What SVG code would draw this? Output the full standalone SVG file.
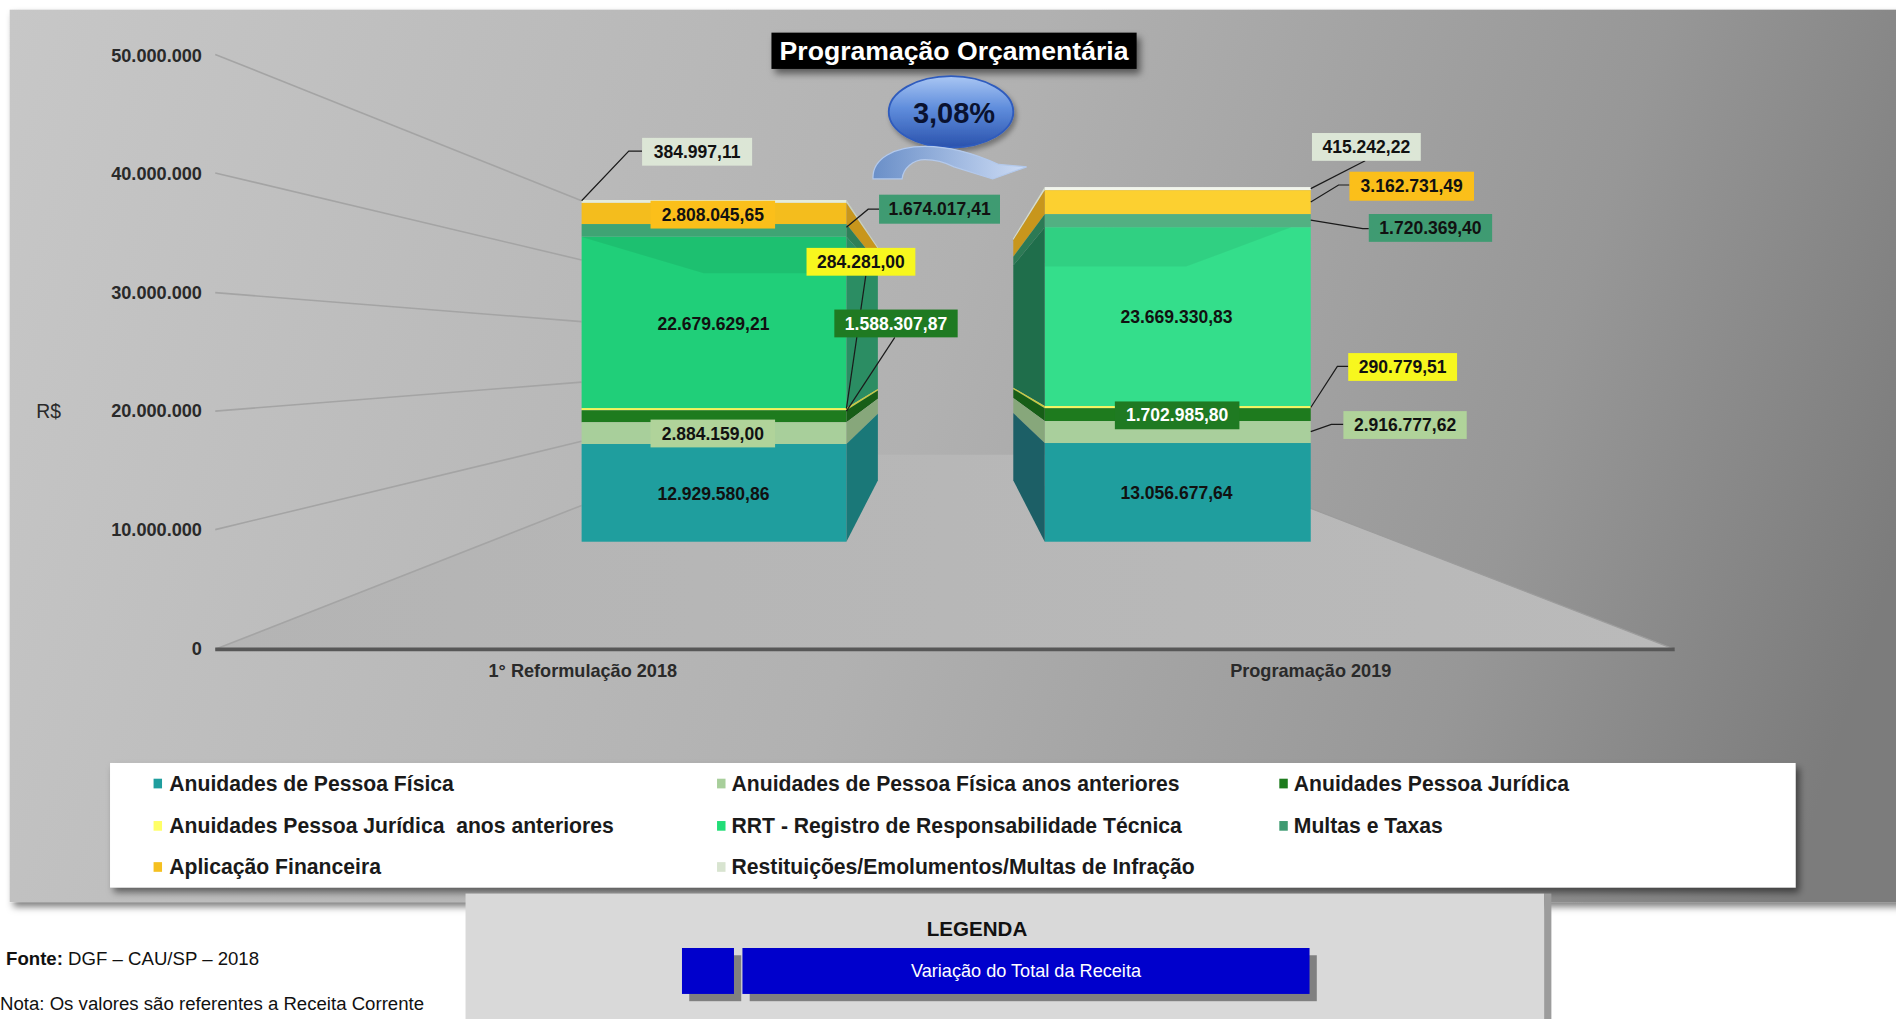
<svg xmlns="http://www.w3.org/2000/svg" width="1896" height="1019" viewBox="0 0 1896 1019">
<defs>
<style>
text{font-family:"Liberation Sans",Arial,sans-serif}
.lbl{font-weight:bold;font-size:14.5px;text-anchor:middle;fill:#111}
.wt{fill:#fff}
.ax{font-weight:bold;font-size:15px;text-anchor:end;fill:#2a2a2a}
.cat{font-weight:bold;font-size:15px;text-anchor:middle;fill:#2a2a2a}
.leg{font-weight:bold;font-size:17.5px;fill:#1a1a1a}
.ld{stroke:#1a1a1a;stroke-width:1;fill:none}
.grid{stroke:#a4a4a4;stroke-width:1.3;fill:none}
.note{font-size:15.4px;fill:#111}
</style>
<linearGradient id="bg" gradientUnits="userSpaceOnUse" x1="8" y1="8" x2="1568" y2="500">
<stop offset="0" stop-color="#c7c7c7"/>
<stop offset="0.5" stop-color="#b1b1b1"/>
<stop offset="0.8" stop-color="#979797"/>
<stop offset="1" stop-color="#7b7b7b"/>
</linearGradient>
<linearGradient id="floor" x1="0" y1="0" x2="1" y2="0">
<stop offset="0" stop-color="#b4b4b4"/>
<stop offset="1" stop-color="#bababa"/>
</linearGradient>
<linearGradient id="ell" x1="0" y1="0" x2="0" y2="1">
<stop offset="0" stop-color="#a9c6f3"/>
<stop offset="0.45" stop-color="#5f8ddc"/>
<stop offset="1" stop-color="#2a52ad"/>
</linearGradient>
<linearGradient id="arr" x1="0" y1="0" x2="1" y2="0">
<stop offset="0" stop-color="#6a8fc8"/>
<stop offset="1" stop-color="#cddcf5"/>
</linearGradient>
<filter id="sh" x="-5%" y="-20%" width="115%" height="160%">
<feDropShadow dx="3" dy="4" stdDeviation="3" flood-color="#000" flood-opacity="0.5"/>
</filter>
<filter id="sh2" x="-20%" y="-20%" width="140%" height="150%">
<feDropShadow dx="2" dy="3" stdDeviation="2" flood-color="#000" flood-opacity="0.35"/>
</filter>
</defs>
<rect width="1896" height="1019" fill="#fff"/>
<g transform="scale(1.20918)">
<g id="panel">
<rect x="8" y="8" width="1565" height="738" fill="url(#bg)" filter="url(#sh)"/>
<polygon points="178,537 588,376 969,376 1385,537" fill="url(#floor)"/>
<line class="grid" x1="178" y1="45" x2="481" y2="166"/>
<line class="grid" x1="178" y1="143" x2="481" y2="215"/>
<line class="grid" x1="178" y1="242" x2="481" y2="266"/>
<line class="grid" x1="178" y1="340" x2="481" y2="316"/>
<line class="grid" x1="178" y1="438" x2="481" y2="365"/>
<line class="grid" x1="178" y1="537" x2="481" y2="418"/>
<line x1="1385" y1="537" x2="1083" y2="420" stroke="#9c9c9c" stroke-width="1"/>
<line x1="178" y1="537" x2="1385" y2="537" stroke="#575757" stroke-width="3"/>
</g>
<g id="axis">
<text class="ax" x="167" y="51">50.000.000</text>
<text class="ax" x="167" y="149">40.000.000</text>
<text class="ax" x="167" y="247">30.000.000</text>
<text class="ax" x="167" y="345">20.000.000</text>
<text class="ax" x="167" y="443">10.000.000</text>
<text class="ax" x="167" y="542">0</text>
<text x="30" y="346" font-size="16" fill="#2a2a2a">R$</text>
<text class="cat" x="482" y="560">1° Reformulação 2018</text>
<text class="cat" x="1084" y="560">Programação 2019</text>
</g>
<g id="bar2018">
<rect x="481" y="165.4" width="219" height="2.4" fill="#e4ecdb"/>
<rect x="481" y="167.8" width="219" height="17.5" fill="#f4bd1d"/>
<rect x="481" y="185.3" width="219" height="10.5" fill="#3fa474"/>
<rect x="481" y="195.8" width="219" height="141.7" fill="#20cf79"/>
<polygon points="481,196 582,226 700,226 700,196" fill="#000" opacity="0.07"/>
<rect x="481" y="337.5" width="219" height="1.8" fill="#f1f55a"/>
<rect x="481" y="339.3" width="219" height="9.9" fill="#1e7b1e"/>
<rect x="481" y="349.2" width="219" height="18" fill="#a8cf9b"/>
<rect x="481" y="367.2" width="219" height="80.8" fill="#1f9e9e"/>
<polygon points="700,165.4 726,204.3 726,205.9 700,167.8" fill="#c9d1c0"/>
<polygon points="700,167.8 726,205.9 726,217.9 700,185.3" fill="#c8961c"/>
<polygon points="700,185.3 726,217.9 726,225 700,195.8" fill="#2f7f58"/>
<polygon points="700,195.8 726,225 726,321.8 700,337.5" fill="#2b8d63"/>
<polygon points="700,337.5 726,321.8 726,323 700,339.3" fill="#c8cc40"/>
<polygon points="700,339.3 726,323 726,329.8 700,349.2" fill="#175e17"/>
<polygon points="700,349.2 726,329.8 726,342.1 700,367.2" fill="#87a77b"/>
<polygon points="700,367.2 726,342.1 726,397.3 700,448" fill="#1a7878"/>
</g>
<g id="bar2019">
<rect x="864" y="154.7" width="220" height="2.6" fill="#f2f5ec"/>
<rect x="864" y="157.3" width="220" height="19.8" fill="#fcd030"/>
<rect x="864" y="177.1" width="220" height="10.8" fill="#52b082"/>
<rect x="864" y="187.9" width="220" height="147.9" fill="#34de8b"/>
<polygon points="864,188 1068,188 981,220.5 864,220.5" fill="#000" opacity="0.06"/>
<rect x="864" y="335.8" width="220" height="1.8" fill="#f4f562"/>
<rect x="864" y="337.6" width="220" height="10.6" fill="#1e7b1e"/>
<rect x="864" y="348.2" width="220" height="18.2" fill="#a9cf9c"/>
<rect x="864" y="366.4" width="220" height="81.6" fill="#1f9e9e"/>
<polygon points="864,154.7 838,197 838,198.7 864,157.3" fill="#d6ddcc"/>
<polygon points="864,157.3 838,198.7 838,212.3 864,177.1" fill="#c8961c"/>
<polygon points="864,177.1 838,212.3 838,219.6 864,187.9" fill="#2c7a55"/>
<polygon points="864,187.9 838,219.6 838,320.7 864,335.8" fill="#1f6e4b"/>
<polygon points="864,335.8 838,320.7 838,321.9 864,337.6" fill="#c8cc40"/>
<polygon points="864,337.6 838,321.9 838,329.1 864,348.2" fill="#175e17"/>
<polygon points="864,348.2 838,329.1 838,341.6 864,366.4" fill="#87a77b"/>
<polygon points="864,366.4 838,341.6 838,397.3 864,448" fill="#1c5f66"/>
</g>
<g id="connectors">
<polyline class="ld" points="481,166 520,125 531,125"/>
<polyline class="ld" points="700,188 718,173 727,173"/>
<polyline class="ld" points="716,228 700,338"/>
<polyline class="ld" points="740,279 700,340"/>
<polyline class="ld" points="1084,156 1129,133"/>
<polyline class="ld" points="1084,167 1107,153 1116,153"/>
<polyline class="ld" points="1084,182 1127,189 1132,189"/>
<polyline class="ld" points="1084,337 1106,303 1115,303"/>
<polyline class="ld" points="1084,357 1101,351 1111,351"/>
</g>
<g id="labels2018">
<rect x="531" y="114" width="91" height="23" fill="#dce6d6"/>
<text class="lbl" x="576.5" y="130.5">384.997,11</text>
<rect x="538" y="166" width="103" height="23" fill="#fbbf1a"/>
<text class="lbl" x="589.5" y="182.5">2.808.045,65</text>
<rect x="727" y="161" width="100" height="24" fill="#3f9b72"/>
<text class="lbl" x="777" y="178">1.674.017,41</text>
<rect x="667" y="205" width="90" height="23" fill="#f7f71e"/>
<text class="lbl" x="712" y="221.5">284.281,00</text>
<rect x="690" y="256" width="102" height="23" fill="#1f7a22"/>
<text class="lbl wt" x="741" y="272.5">1.588.307,87</text>
<text class="lbl" x="590" y="273">22.679.629,21</text>
<rect x="538" y="347" width="103" height="23" fill="#b0d39a"/>
<text class="lbl" x="589.5" y="363.5">2.884.159,00</text>
<text class="lbl" x="590" y="413.5">12.929.580,86</text>
</g>
<g id="labels2019">
<rect x="1085" y="110" width="90" height="23" fill="#dce6d6"/>
<text class="lbl" x="1130" y="126.5">415.242,22</text>
<rect x="1116" y="142" width="103" height="24" fill="#fbbf1a"/>
<text class="lbl" x="1167.5" y="159">3.162.731,49</text>
<rect x="1132" y="177" width="102" height="23" fill="#3f9b72"/>
<text class="lbl" x="1183" y="193.5">1.720.369,40</text>
<text class="lbl" x="973" y="267">23.669.330,83</text>
<rect x="1115" y="292" width="90" height="23" fill="#f7f71e"/>
<text class="lbl" x="1160" y="308.5">290.779,51</text>
<rect x="922" y="332" width="103" height="23" fill="#1f7a22"/>
<text class="lbl wt" x="973.5" y="348.5">1.702.985,80</text>
<rect x="1111" y="340" width="102" height="23" fill="#b0d39a"/>
<text class="lbl" x="1162" y="356.5">2.916.777,62</text>
<text class="lbl" x="973" y="413">13.056.677,64</text>
</g>
<g id="title">
<rect x="638" y="27" width="302" height="30" fill="#000" filter="url(#sh)"/>
<text x="789" y="50" font-size="22" font-weight="bold" fill="#fff" text-anchor="middle">Programação Orçamentária</text>
</g>
<g id="variation">
<ellipse cx="786.5" cy="92.5" rx="51.5" ry="29.5" fill="url(#ell)" stroke="#2f5bbd" stroke-width="1.5" filter="url(#sh2)"/>
<text x="789" y="102" font-size="24" font-weight="bold" fill="#0a1230" text-anchor="middle">3,08%</text>
<path d="M722,148 C721,131 740,121 765,121 C786,121 806,127 826,136 L849,138 L821,148 L789,138 C781,134 773,132 765,132 C755,132 747,139 746,148 Z" fill="url(#arr)" stroke="#b3c9ec" stroke-width="1"/>
</g>
<g id="legend">
<rect x="91" y="631" width="1394" height="103" fill="#fff" filter="url(#sh)"/>
<rect x="127" y="644" width="7" height="8" fill="#1f9e9e"/>
<text class="leg" x="140" y="654">Anuidades de Pessoa Física</text>
<rect x="593" y="644" width="7" height="8" fill="#a8cf9b"/>
<text class="leg" x="605" y="654">Anuidades de Pessoa Física anos anteriores</text>
<rect x="1058" y="644" width="7" height="8" fill="#1e7b1e"/>
<text class="leg" x="1070" y="654">Anuidades Pessoa Jurídica</text>
<rect x="127" y="679" width="7" height="8" fill="#ffff66"/>
<text class="leg" x="140" y="689" xml:space="preserve">Anuidades Pessoa Jurídica  anos anteriores</text>
<rect x="593" y="679" width="7" height="8" fill="#22dd77"/>
<text class="leg" x="605" y="689">RRT - Registro de Responsabilidade Técnica</text>
<rect x="1058" y="679" width="7" height="8" fill="#3f9b72"/>
<text class="leg" x="1070" y="689">Multas e Taxas</text>
<rect x="127" y="713" width="7" height="8" fill="#f5c020"/>
<text class="leg" x="140" y="723">Aplicação Financeira</text>
<rect x="593" y="713" width="7" height="8" fill="#d8e4d0"/>
<text class="leg" x="605" y="723">Restituições/Emolumentos/Multas de Infração</text>
</g>
<g id="legenda">
<rect x="385" y="739" width="892" height="110" fill="#d9d9d9"/>
<rect x="1277" y="739" width="6" height="110" fill="#9c9c9c"/>
<text x="808" y="774" font-size="17" font-weight="bold" fill="#111" text-anchor="middle">LEGENDA</text>
<rect x="570" y="790" width="43" height="38" fill="#808080"/>
<rect x="564" y="784" width="43" height="38" fill="#0000cc"/>
<rect x="620" y="790" width="469" height="38" fill="#808080"/>
<rect x="614" y="784" width="469" height="38" fill="#0000cc"/>
<text x="848.5" y="808" font-size="15" fill="#fff" text-anchor="middle">Variação do Total da Receita</text>
</g>
<g id="notes">
<text class="note" x="5" y="798"><tspan font-weight="bold">Fonte:</tspan> DGF – CAU/SP – 2018</text>
<text class="note" x="0" y="835">Nota: Os valores são referentes a Receita Corrente</text>
</g>
</g>
</svg>
